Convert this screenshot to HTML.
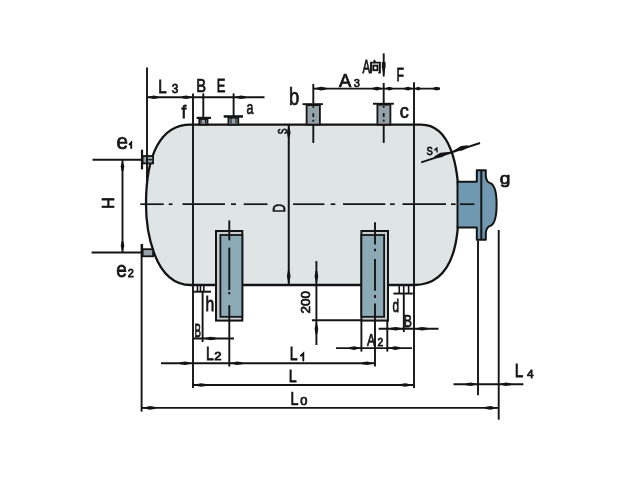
<!DOCTYPE html>
<html><head><meta charset="utf-8">
<style>
html,body{margin:0;padding:0;background:#fff;overflow:hidden;}
svg{display:block;}
text{font-family:"Liberation Sans",sans-serif;fill:#151515;}
</style></head>
<body>
<svg width="640" height="480" viewBox="0 0 640 480">
<rect x="0" y="0" width="640" height="480" fill="#ffffff"/>
<path d="M190.63 124.6 L421.06 124.6 C450.3 124.6 458.8 165.24 458.8 204.3 C458.8 229.74 457.64 285 414.1 285 L190.78 285 C152.44 285 146 226.36 146 204.3 C146 153.96 160.96 124.6 190.63 124.6 Z" fill="rgb(223,228,229)" stroke="#141414" stroke-width="2.3"/>
<path d="M457.5 181.8 L476.8 181.8 L476.8 170.2 L485.8 170.2 L485.8 176 Q486.3 182.2 490.8 183.4 C495.3 185.8 496.6 196 496.6 204.5 C496.6 213 495.3 223.2 490.8 225.6 Q486.3 227 485.8 233 L485.8 239.8 L476.8 239.8 L476.8 227.4 L457.5 227.4 Z" fill="rgb(112,152,176)" stroke="#141414" stroke-width="2" stroke-linejoin="round"/>
<line x1="481.3" y1="170.5" x2="481.3" y2="239.5" stroke="#141414" stroke-width="2" />
<line x1="140.3" y1="204.2" x2="163.75" y2="204.2" stroke="#141414" stroke-width="1.7" />
<line x1="168.75" y1="204.2" x2="172.5" y2="204.2" stroke="#141414" stroke-width="1.7" />
<line x1="182.5" y1="204.2" x2="225" y2="204.2" stroke="#141414" stroke-width="1.7" />
<line x1="231" y1="204.2" x2="236" y2="204.2" stroke="#141414" stroke-width="1.7" />
<line x1="243.75" y1="204.2" x2="267.5" y2="204.2" stroke="#141414" stroke-width="1.7" />
<line x1="293" y1="204.2" x2="324.4" y2="204.2" stroke="#141414" stroke-width="1.7" />
<line x1="330.6" y1="204.2" x2="335.3" y2="204.2" stroke="#141414" stroke-width="1.7" />
<line x1="343" y1="204.2" x2="385.3" y2="204.2" stroke="#141414" stroke-width="1.7" />
<line x1="390" y1="204.2" x2="394.7" y2="204.2" stroke="#141414" stroke-width="1.7" />
<line x1="402.5" y1="204.2" x2="446" y2="204.2" stroke="#141414" stroke-width="1.7" />
<line x1="451" y1="204.2" x2="455.6" y2="204.2" stroke="#141414" stroke-width="1.7" />
<line x1="460" y1="204.2" x2="474.4" y2="204.2" stroke="#141414" stroke-width="1.7" />
<rect x="142.6" y="156" width="10.5" height="7.4" fill="rgb(150,162,170)" stroke="#141414" stroke-width="1.8"/>
<line x1="142" y1="149.7" x2="142" y2="169.4" stroke="#141414" stroke-width="2.2" />
<line x1="146" y1="159.7" x2="152" y2="159.7" stroke="#141414" stroke-width="1.2" />
<rect x="142.6" y="249.2" width="10.5" height="7.1" fill="rgb(150,162,170)" stroke="#141414" stroke-width="1.8"/>
<line x1="142" y1="244" x2="142" y2="257" stroke="#141414" stroke-width="2.2" />
<rect x="306.6" y="105.10000000000001" width="13.299999999999955" height="19.499999999999993" fill="rgb(150,162,170)" stroke="#141414" stroke-width="1.8"/>
<rect x="302.5" y="103.2" width="20.399999999999977" height="1.9" fill="#141414"/>
<line x1="313.3" y1="106.2" x2="313.3" y2="107.9" stroke="#141414" stroke-width="1.8" />
<line x1="313.3" y1="113.3" x2="313.3" y2="117" stroke="#141414" stroke-width="1.8" />
<line x1="313.3" y1="119.8" x2="313.3" y2="121.7" stroke="#141414" stroke-width="1.8" />
<rect x="377.4" y="104.7" width="13.0" height="19.9" fill="rgb(150,162,170)" stroke="#141414" stroke-width="1.8"/>
<rect x="373" y="102.8" width="20.899999999999977" height="1.9" fill="#141414"/>
<line x1="383.7" y1="106" x2="383.7" y2="107.8" stroke="#141414" stroke-width="1.8" />
<line x1="383.7" y1="113" x2="383.7" y2="117" stroke="#141414" stroke-width="1.8" />
<line x1="383.7" y1="119.6" x2="383.7" y2="121.6" stroke="#141414" stroke-width="1.8" />
<rect x="199.3" y="119.0" width="8.199999999999989" height="5.599999999999997" fill="rgb(150,162,170)" stroke="#141414" stroke-width="1.8"/>
<rect x="196.6" y="116.8" width="14.400000000000006" height="2.2" fill="#141414"/>
<rect x="228.4" y="117.7" width="9.900000000000006" height="6.8999999999999915" fill="rgb(150,162,170)" stroke="#141414" stroke-width="1.8"/>
<rect x="223.7" y="115.2" width="19.30000000000001" height="2.5" fill="#141414"/>
<line x1="201" y1="118.5" x2="201" y2="123.5" stroke="#141414" stroke-width="1.1" />
<line x1="205.5" y1="118.5" x2="205.5" y2="123.5" stroke="#141414" stroke-width="1.1" />
<line x1="231" y1="118" x2="231" y2="123.5" stroke="#141414" stroke-width="1.1" />
<line x1="236" y1="118" x2="236" y2="123.5" stroke="#141414" stroke-width="1.1" />
<rect x="216" y="231" width="26.30000000000001" height="89.60000000000002" fill="rgb(200,205,207)" stroke="#141414" stroke-width="2"/>
<rect x="220.4" y="235" width="21.900000000000013" height="81.80000000000001" fill="rgb(140,170,182)" stroke="#141414" stroke-width="1.8"/>
<rect x="361.4" y="231" width="26.600000000000023" height="89.60000000000002" fill="rgb(200,205,207)" stroke="#141414" stroke-width="2"/>
<rect x="361.4" y="235" width="22.700000000000024" height="81.80000000000001" fill="rgb(140,170,182)" stroke="#141414" stroke-width="1.8"/>
<rect x="194.1" y="290.7" width="16.9" height="2" fill="#141414"/>
<line x1="197.5" y1="285.5" x2="197.5" y2="291" stroke="#141414" stroke-width="1.6" />
<line x1="200.5" y1="285.5" x2="200.5" y2="291" stroke="#141414" stroke-width="1.6" />
<line x1="203.8" y1="285.5" x2="203.8" y2="291" stroke="#141414" stroke-width="1.6" />
<rect x="393.4" y="292.6" width="19.4" height="1.9" fill="#141414"/>
<line x1="399.25" y1="285.5" x2="399.25" y2="293" stroke="#141414" stroke-width="1.6" />
<line x1="403.7" y1="285.5" x2="403.7" y2="293" stroke="#141414" stroke-width="1.6" />
<line x1="408.6" y1="285.5" x2="408.6" y2="293" stroke="#141414" stroke-width="1.6" />
<line x1="193" y1="93.4" x2="193" y2="388" stroke="#141414" stroke-width="1.9" />
<line x1="414" y1="82.3" x2="414" y2="388" stroke="#141414" stroke-width="1.9" />
<line x1="288.75" y1="124.6" x2="288.75" y2="285" stroke="#141414" stroke-width="2" />
<line x1="147" y1="67.5" x2="147" y2="186" stroke="#141414" stroke-width="1.9" />
<line x1="203.3" y1="93.4" x2="203.3" y2="117" stroke="#141414" stroke-width="1.9" />
<line x1="233.6" y1="93.4" x2="233.6" y2="116" stroke="#141414" stroke-width="1.9" />
<line x1="146.5" y1="97.2" x2="264.5" y2="97.2" stroke="#141414" stroke-width="1.9" />
<line x1="313.3" y1="88.6" x2="440" y2="88.6" stroke="#141414" stroke-width="1.9" />
<line x1="313.3" y1="83.9" x2="313.3" y2="103.5" stroke="#141414" stroke-width="1.9" />
<line x1="313.3" y1="124.6" x2="313.3" y2="143" stroke="#141414" stroke-width="1.9" />
<line x1="383.7" y1="83" x2="383.7" y2="103" stroke="#141414" stroke-width="1.9" />
<line x1="383.7" y1="124.6" x2="383.7" y2="143" stroke="#141414" stroke-width="1.9" />
<line x1="383.7" y1="53.4" x2="383.7" y2="76.5" stroke="#141414" stroke-width="1.9" />
<line x1="316.4" y1="261" x2="316.4" y2="345" stroke="#141414" stroke-width="1.9" />
<line x1="312" y1="320.3" x2="361.4" y2="320.3" stroke="#141414" stroke-width="1.9" />
<line x1="122.5" y1="160" x2="122.5" y2="252.5" stroke="#141414" stroke-width="1.9" />
<line x1="92.5" y1="159.7" x2="142" y2="159.7" stroke="#141414" stroke-width="1.9" />
<line x1="91.6" y1="252.5" x2="142" y2="252.5" stroke="#141414" stroke-width="1.9" />
<line x1="141.6" y1="244" x2="141.6" y2="411.6" stroke="#141414" stroke-width="1.9" />
<line x1="193" y1="338.5" x2="234" y2="338.5" stroke="#141414" stroke-width="1.9" />
<line x1="202.6" y1="292" x2="202.6" y2="342" stroke="#141414" stroke-width="1.9" />
<line x1="161" y1="363.2" x2="375" y2="363.2" stroke="#141414" stroke-width="1.9" />
<line x1="229.3" y1="220.4" x2="229.3" y2="240.3" stroke="#141414" stroke-width="1.9" />
<line x1="229.3" y1="247.6" x2="229.3" y2="290.1" stroke="#141414" stroke-width="1.9" />
<line x1="229.3" y1="292" x2="229.3" y2="294.3" stroke="#141414" stroke-width="1.9" />
<line x1="229.3" y1="305.2" x2="229.3" y2="366.6" stroke="#141414" stroke-width="1.9" />
<line x1="193" y1="385" x2="413.4" y2="385" stroke="#141414" stroke-width="1.9" />
<line x1="141.6" y1="407.9" x2="498.7" y2="407.9" stroke="#141414" stroke-width="1.9" />
<line x1="498.7" y1="230" x2="498.7" y2="419.7" stroke="#141414" stroke-width="1.9" />
<line x1="478" y1="240.6" x2="478" y2="395.3" stroke="#141414" stroke-width="1.9" />
<line x1="453.5" y1="384.2" x2="523.4" y2="384.2" stroke="#141414" stroke-width="1.9" />
<line x1="336" y1="348.1" x2="412" y2="348.1" stroke="#141414" stroke-width="1.9" />
<line x1="361.4" y1="321" x2="361.4" y2="351.6" stroke="#141414" stroke-width="1.9" />
<line x1="387.3" y1="321" x2="387.3" y2="351.6" stroke="#141414" stroke-width="1.9" />
<line x1="375" y1="222.2" x2="375" y2="244.6" stroke="#141414" stroke-width="1.9" />
<line x1="375" y1="248.8" x2="375" y2="251.2" stroke="#141414" stroke-width="1.9" />
<line x1="375" y1="259" x2="375" y2="290.7" stroke="#141414" stroke-width="1.9" />
<line x1="375" y1="295" x2="375" y2="298" stroke="#141414" stroke-width="1.9" />
<line x1="375" y1="303.4" x2="375" y2="366.6" stroke="#141414" stroke-width="1.9" />
<line x1="378.6" y1="328.7" x2="438.5" y2="328.7" stroke="#141414" stroke-width="1.9" />
<line x1="403.8" y1="293" x2="403.8" y2="332" stroke="#141414" stroke-width="1.9" />
<line x1="421.2" y1="162.3" x2="480" y2="143" stroke="#141414" stroke-width="1.9" />
<polygon points="147.00,97.20 153.60,95.40 158.00,96.25 158.00,98.15 153.60,99.00" fill="#141414"/>
<polygon points="193.00,97.20 186.40,99.00 182.00,98.15 182.00,96.25 186.40,95.40" fill="#141414"/>
<polygon points="233.60,97.20 240.80,95.40 245.60,96.25 245.60,98.15 240.80,99.00" fill="#141414"/>
<polygon points="313.30,88.60 321.10,86.80 326.30,87.65 326.30,89.55 321.10,90.40" fill="#141414"/>
<polygon points="383.70,88.60 377.10,90.40 372.70,89.55 372.70,87.65 377.10,86.80" fill="#141414"/>
<polygon points="384.50,88.60 389.30,86.80 392.50,87.65 392.50,89.55 389.30,90.40" fill="#141414"/>
<polygon points="413.50,88.60 408.10,90.40 404.50,89.55 404.50,87.65 408.10,86.80" fill="#141414"/>
<polygon points="414.50,88.60 418.10,86.80 420.50,87.65 420.50,89.55 418.10,90.40" fill="#141414"/>
<polygon points="431.00,88.60 436.40,86.80 440.00,87.65 440.00,89.55 436.40,90.40" fill="#141414"/>
<polygon points="383.7,77 385.6,66.5 385.5,62 381.9,62 381.8,66.5" fill="#141414"/>
<polygon points="122.50,160.00 124.30,166.60 123.45,171.00 121.55,171.00 120.70,166.60" fill="#141414"/>
<polygon points="122.50,252.50 120.70,245.90 121.55,241.50 123.45,241.50 124.30,245.90" fill="#141414"/>
<polygon points="288.75,285.00 286.95,276.60 287.80,271.00 289.70,271.00 290.55,276.60" fill="#141414"/>
<polygon points="288.75,124.60 290.55,132.40 289.70,137.60 287.80,137.60 286.95,132.40" fill="#141414"/>
<polygon points="316.40,285.00 314.60,276.60 315.45,271.00 317.35,271.00 318.20,276.60" fill="#141414"/>
<polygon points="316.40,320.30 318.20,328.70 317.35,334.30 315.45,334.30 314.60,328.70" fill="#141414"/>
<polygon points="202.60,338.50 210.40,336.70 215.60,337.55 215.60,339.45 210.40,340.30" fill="#141414"/>
<polygon points="193.00,363.20 185.20,365.00 180.00,364.15 180.00,362.25 185.20,361.40" fill="#141414"/>
<polygon points="229.30,363.20 237.10,361.40 242.30,362.25 242.30,364.15 237.10,365.00" fill="#141414"/>
<polygon points="375.00,363.20 367.20,365.00 362.00,364.15 362.00,362.25 367.20,361.40" fill="#141414"/>
<polygon points="193.00,385.00 200.80,383.20 206.00,384.05 206.00,385.95 200.80,386.80" fill="#141414"/>
<polygon points="413.40,385.00 405.60,386.80 400.40,385.95 400.40,384.05 405.60,383.20" fill="#141414"/>
<polygon points="141.60,407.90 150.00,406.10 155.60,406.95 155.60,408.85 150.00,409.70" fill="#141414"/>
<polygon points="498.70,407.90 490.30,409.70 484.70,408.85 484.70,406.95 490.30,406.10" fill="#141414"/>
<polygon points="478.00,384.20 470.80,386.00 466.00,385.15 466.00,383.25 470.80,382.40" fill="#141414"/>
<polygon points="498.70,384.20 505.90,382.40 510.70,383.25 510.70,385.15 505.90,386.00" fill="#141414"/>
<polygon points="361.40,348.10 354.20,349.90 349.40,349.05 349.40,347.15 354.20,346.30" fill="#141414"/>
<polygon points="387.30,348.10 395.10,346.30 400.30,347.15 400.30,349.05 395.10,349.90" fill="#141414"/>
<polygon points="403.80,328.70 396.00,330.50 390.80,329.65 390.80,327.75 396.00,326.90" fill="#141414"/>
<polygon points="414.00,328.70 421.80,326.90 427.00,327.75 427.00,329.65 421.80,330.50" fill="#141414"/>
<polygon points="450.80,151.80 441.83,157.17 434.94,158.00 434.35,156.20 440.39,152.80" fill="#141414"/>
<polygon points="452.00,151.40 460.97,146.03 467.86,145.20 468.45,147.00 462.41,150.40" fill="#141414"/>
<g style="filter:grayscale(1)">
<text transform="translate(158.33,92.7) scale(0.835,1)" font-size="18.17" font-weight="normal" stroke="#151515" stroke-width="0.75">L</text>
<text transform="translate(171.7,93.0) scale(0.879,1)" font-size="13.51" font-weight="normal" stroke="#151515" stroke-width="0.75">3</text>
<text transform="translate(196.16,92.2) scale(0.834,1)" font-size="17.63" font-weight="normal" stroke="#151515" stroke-width="0.75">B</text>
<text transform="translate(216.86,92.2) scale(0.735,1)" font-size="17.63" font-weight="normal" stroke="#151515" stroke-width="0.75">E</text>
<text transform="translate(181.5,118.0) scale(0.95,1)" font-size="18.0" font-weight="normal" stroke="#151515" stroke-width="0.75">f</text>
<text transform="translate(246.5,113.6) scale(0.664,1)" font-size="18.7" font-weight="normal" stroke="#151515" stroke-width="0.75">a</text>
<text transform="translate(288.9,104.8) scale(0.77,1)" font-size="23.89" font-weight="normal" stroke="#151515" stroke-width="0.75">b</text>
<text transform="translate(339.1,86.6) scale(1.033,1)" font-size="17.86" font-weight="normal" stroke="#151515" stroke-width="0.75">A</text>
<text transform="translate(353.75,86.6) scale(0.942,1)" font-size="11.73" font-weight="normal" stroke="#151515" stroke-width="0.75">3</text>
<text transform="translate(362.5,72.5) scale(0.647,1)" font-size="17.86" font-weight="normal" stroke="#151515" stroke-width="0.75">A</text>
<text transform="translate(396.38,81.3) scale(0.705,1)" font-size="17.42" font-weight="normal" stroke="#151515" stroke-width="0.75">F</text>
<text transform="translate(399.7,117.9) scale(0.897,1)" font-size="20.21" font-weight="normal" stroke="#151515" stroke-width="0.75">c</text>
<text transform="translate(426.6,155.2) scale(0.824,1)" font-size="11.47" font-weight="normal" stroke="#151515" stroke-width="0.75">S</text>
<text transform="translate(499.8,183.93) scale(1.102,1)" font-size="17.42" font-weight="normal" stroke="#151515" stroke-width="0.75">g</text>
<text transform="translate(116.4,148.75) scale(0.955,1)" font-size="21.67" font-weight="normal" stroke="#151515" stroke-width="0.75">e</text>
<text transform="translate(116.17,276.75) scale(0.86,1)" font-size="22.12" font-weight="normal" stroke="#151515" stroke-width="0.75">e</text>
<text transform="translate(127.7,276.5) scale(0.964,1)" font-size="11.41" font-weight="normal" stroke="#151515" stroke-width="0.75">2</text>
<text transform="translate(102.0,197.36) rotate(90) scale(0.955,1)" font-size="16.74" font-weight="normal" stroke="#151515" stroke-width="0.75">H</text>
<text transform="translate(286.56,134.22) rotate(-90) scale(0.667,1)" font-size="13.11" font-weight="normal" stroke="#151515" stroke-width="0.75">S</text>
<text transform="translate(284.97,212.6) rotate(-90) scale(0.744,1)" font-size="15.89" font-weight="normal" stroke="#151515" stroke-width="0.75">D</text>
<text transform="translate(310.07,313.4) rotate(-90) scale(1.041,1)" font-size="12.98" font-weight="normal" stroke="#151515" stroke-width="0.75">200</text>
<text transform="translate(205.52,311.1) scale(0.807,1)" font-size="19.52" font-weight="normal" stroke="#151515" stroke-width="0.75">h</text>
<text transform="translate(194.43,336.6) scale(0.514,1)" font-size="18.84" font-weight="normal" stroke="#151515" stroke-width="0.75">B</text>
<text transform="translate(206.09,360.3) scale(0.78,1)" font-size="17.71" font-weight="normal" stroke="#151515" stroke-width="0.75">L</text>
<text transform="translate(214.2,360.3) scale(1.205,1)" font-size="10.73" font-weight="normal" stroke="#151515" stroke-width="0.75">2</text>
<text transform="translate(289.78,360.3) scale(0.773,1)" font-size="18.13" font-weight="normal" stroke="#151515" stroke-width="0.75">L</text>
<text transform="translate(288.86,381.9) scale(0.824,1)" font-size="17.28" font-weight="normal" stroke="#151515" stroke-width="0.75">L</text>
<text transform="translate(290.41,404.8) scale(0.81,1)" font-size="17.71" font-weight="normal" stroke="#151515" stroke-width="0.75">L</text>
<text transform="translate(300.3,404.8) scale(1.092,1)" font-size="11.76" font-weight="normal" stroke="#151515" stroke-width="0.75">0</text>
<text transform="translate(366.9,346.25) scale(0.734,1)" font-size="16.79" font-weight="normal" stroke="#151515" stroke-width="0.75">A</text>
<text transform="translate(377.5,346.25) scale(0.916,1)" font-size="11.21" font-weight="normal" stroke="#151515" stroke-width="0.75">2</text>
<text transform="translate(392.6,311.6) scale(0.667,1)" font-size="17.57" font-weight="normal" stroke="#151515" stroke-width="0.75">d</text>
<text transform="translate(403.83,326.6) scale(0.724,1)" font-size="16.93" font-weight="normal" stroke="#151515" stroke-width="0.75">B</text>
<text transform="translate(514.7,377.2) scale(0.864,1)" font-size="17.71" font-weight="normal" stroke="#151515" stroke-width="0.75">L</text>
<text transform="translate(526.9,377.5) scale(1.032,1)" font-size="11.55" font-weight="normal" stroke="#151515" stroke-width="0.75">4</text>
</g>
<g stroke="#141414" stroke-width="1.9" fill="none" stroke-linecap="round"><path d="M129.5 144.4 L131.2 142.6 L131.2 148.1"/><path d="M300.9 355.7 L303.3 353.4 L303.3 360.6"/><path d="M434.8 149.9 L436.8 148.3 L437.1 151.9" stroke-width="1.5"/></g>
<g stroke="#141414" stroke-width="1.9" fill="none"><path d="M374 60 L375 62.3"/><path d="M371 73.2 L371 62.6 L379.9 62.6 L379.9 72.6 L378.3 72.6"/><rect x="373.3" y="65.6" width="4.2" height="4.6"/></g>
</svg>
</body></html>
